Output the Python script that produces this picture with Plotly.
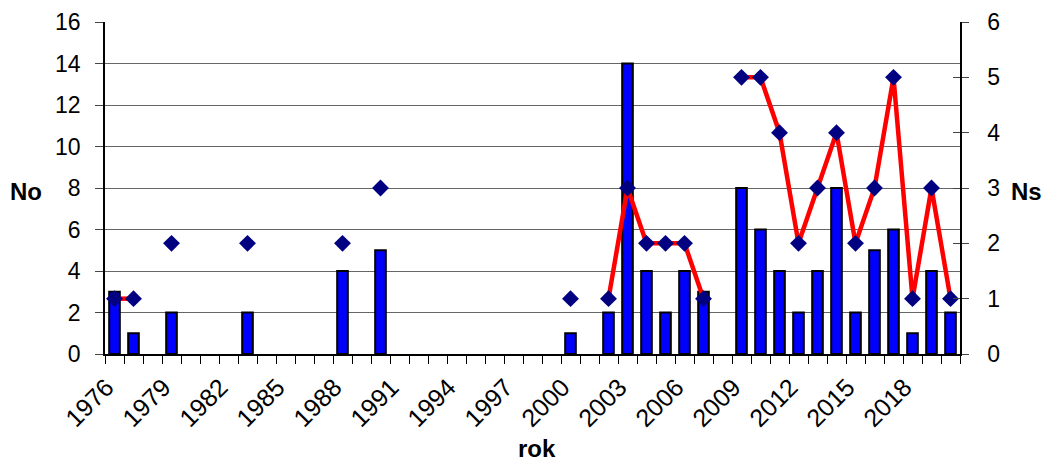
import plotly.graph_objects as go

years = list(range(1976, 2021))
no_values = {1976: 3, 1977: 1, 1979: 2, 1983: 2, 1988: 4, 1990: 5, 2000: 1,
             2002: 2, 2003: 14, 2004: 4, 2005: 2, 2006: 4, 2007: 3,
             2009: 8, 2010: 6, 2011: 4, 2012: 2, 2013: 4, 2014: 8, 2015: 2,
             2016: 5, 2017: 6, 2018: 1, 2019: 4, 2020: 2}
ns_values = {1976: 1, 1977: 1, 1979: 2, 1983: 2, 1988: 2, 1990: 3, 2000: 1,
             2002: 1, 2003: 3, 2004: 2, 2005: 2, 2006: 2, 2007: 1,
             2009: 5, 2010: 5, 2011: 4, 2012: 2, 2013: 3, 2014: 4, 2015: 2,
             2016: 3, 2017: 5, 2018: 1, 2019: 3, 2020: 1}
tick_years = list(range(1976, 2019, 3))

no_series = [no_values.get(y) for y in years]
ns_series = [ns_values.get(y) for y in years]

FONT = "Liberation Sans, Arial, sans-serif"
W, H = 1043, 462
L, R, T, B = 105, 83, 22, 108

fig = go.Figure()
fig.add_trace(go.Bar(
    x=years, y=no_series, width=0.56,
    marker=dict(color="#0000FF", line=dict(color="black", width=2)),
    name="No", yaxis="y",
))
fig.add_trace(go.Scatter(
    x=years, y=ns_series, mode="lines+markers", connectgaps=False,
    line=dict(color="#FF0000", width=4.5),
    marker=dict(symbol="diamond", size=13, color="#000080"),
    name="Ns", yaxis="y2",
))

pw = W - L - R
ph = H - T - B
def px(xp):
    return (xp - L) / pw
def py(yp):
    return (H - B - yp) / ph

fig.update_layout(
    width=W, height=H,
    margin=dict(l=L, r=R, t=T, b=B, autoexpand=False),
    plot_bgcolor="white", paper_bgcolor="white",
    showlegend=False,
    font=dict(family=FONT, size=23, color="black"),
    xaxis=dict(
        range=[1975.5, 2020.5], automargin=False,
        tickmode="array", tickvals=tick_years,
        ticktext=[str(t) for t in tick_years],
        tickangle=-45, ticks="", showgrid=False,
        showline=True, linecolor="black", linewidth=1.5,
        minor=dict(tickmode="linear", tick0=1975.5, dtick=1, ticks="outside",
                   ticklen=8, tickcolor="black", tickwidth=1, showgrid=False),
        tickfont=dict(size=25), ticklabelstandoff=7, ticklabelshift=-8,
        zeroline=False,
    ),
    yaxis=dict(
        range=[0, 16], dtick=2, ticks="outside", ticklen=8, automargin=False,
        showline=True, linecolor="black", linewidth=1.5,
        showgrid=True, gridcolor="#666666", gridwidth=1,
        zeroline=False, tickfont=dict(size=23), ticklabelstandoff=10,
    ),
    yaxis2=dict(
        range=[0, 6], dtick=1, overlaying="y", side="right", automargin=False,
        ticks="outside", ticklen=7, showline=True, linecolor="black",
        linewidth=1.5, showgrid=False, zeroline=False,
        tickfont=dict(size=23), ticklabelstandoff=14,
    ),
    yaxis3=dict(
        range=[0, 6], dtick=1, overlaying="y", side="right", automargin=False,
        ticks="inside", ticklen=7, showticklabels=False, showline=False,
        showgrid=False, zeroline=False,
    ),
    annotations=[
        dict(text="<b>No</b>", x=px(26), y=py(192), xref="paper", yref="paper",
             xanchor="center", yanchor="middle",
             showarrow=False, font=dict(size=24)),
        dict(text="<b>rok</b>", x=px(537), y=py(448), xref="paper", yref="paper",
             xanchor="center", yanchor="middle",
             showarrow=False, font=dict(size=24)),
        dict(text="<b>Ns</b>", x=px(1009), y=py(192), xref="paper", yref="paper",
             xanchor="left", yanchor="middle",
             showarrow=False, font=dict(size=24)),
    ],
)
# invisible trace that activates the tick-only third axis
fig.add_trace(go.Scatter(x=[years[0]], y=[0], yaxis="y3", mode="markers",
                         marker=dict(opacity=0), hoverinfo="skip"))

fig.write_html("out.html", config={"displayModeBar": False},
               post_script="document.body.style.margin='0';")
